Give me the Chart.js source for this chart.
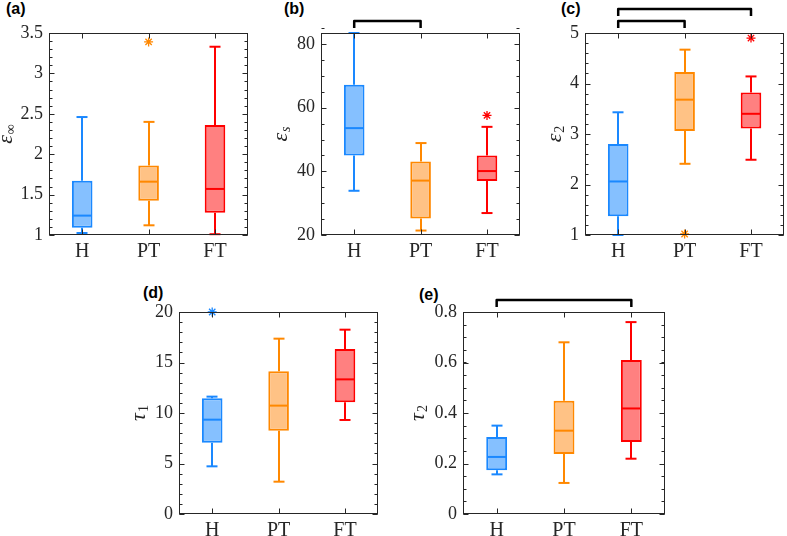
<!DOCTYPE html>
<html><head><meta charset="utf-8">
<script src="https://cdn.jsdelivr.net/npm/chart.js@4/dist/chart.umd.min.js"></script>
<style>
html,body{margin:0;padding:0;background:#fff;width:787px;height:536px;overflow:hidden;position:relative}
canvas{position:absolute}
.lbl{position:absolute;font:bold 16px 'Liberation Sans',Arial,sans-serif;line-height:16px;color:#000;white-space:nowrap}
</style></head><body>
<script>
// ---------------- data ----------------
const categories = ['H', 'PT', 'FT'];

// (a) eps_inf
const aMin = [1.025, 1.12, 1.01];
const aQ1  = [1.09, 1.425, 1.275];
const aMed = [1.24, 1.66, 1.57];
const aQ3  = [1.67, 1.86, 2.36];
const aMax = [2.46, 2.40, 3.33];
const aOutCat = ['PT'];
const aOutVal = [3.39];
const aTicks = [1, 1.5, 2, 2.5, 3, 3.5];

// (b) eps_s
const bMin = [33.9, 21.4, 26.9];
const bQ1  = [45.0, 25.2, 37.0];
const bMed = [53.6, 37.1, 40.1];
const bQ3  = [67.2, 43.1, 45.0];
const bMax = [83.5, 48.9, 54.0];
const bOutCat = ['FT'];
const bOutVal = [57.6];
const bTicks = [20, 40, 60, 80];

// (c) eps_2
const cMin = [1.0, 2.41, 2.49];
const cQ1  = [1.37, 3.06, 3.11];
const cMed = [2.06, 3.68, 3.40];
const cQ3  = [2.80, 4.23, 3.82];
const cMax = [3.43, 4.67, 4.14];
const cOutCat = ['PT', 'FT'];
const cOutVal = [1.02, 4.90];
const cTicks = [1, 2, 3, 4, 5];

// (d) tau_1
const dMin = [4.72, 3.20, 9.31];
const dQ1  = [7.06, 8.25, 11.06];
const dMed = [9.34, 10.73, 13.33];
const dQ3  = [11.45, 14.13, 16.34];
const dMax = [11.62, 17.36, 18.25];
const dOutCat = ['H'];
const dOutVal = [20.0];
const dTicks = [0, 5, 10, 15, 20];

// (e) tau_2
const eMin = [0.157, 0.123, 0.219];
const eQ1  = [0.173, 0.238, 0.285];
const eMed = [0.226, 0.330, 0.418];
const eQ3  = [0.305, 0.449, 0.610];
const eMax = [0.350, 0.680, 0.760];
const eOutCat = [];
const eOutVal = [];
const eTicks = [0, 0.2, 0.4, 0.6, 0.8];

// significance brackets: [fromIndex, toIndex, level]
const bBrackets = [[0, 1, 0]];
const cBrackets = [[0, 1, 0], [0, 2, 1]];
const eBrackets = [[0, 2, 0]];

// ---------------- styles ----------------
const strokes = ['#1A88FF', '#FF8800', '#FF0000'];
const fills   = ['#85C0FF', '#FFC285', '#FF8080'];
const axisColor = '#262626';
const serif = "'Liberation Serif','Times New Roman',serif";

const panels = [
  {tag:'(a)', tagX:6, tagY:1, left:49, top:33, L:49, yMin:1, yMax:3.5, minor:0.1, ticks:aTicks,
   min:aMin,q1:aQ1,med:aMed,q3:aQ3,max:aMax,outCat:aOutCat,outVal:aOutVal, brackets:[],
   title:'ε', sub:'∞', subItalic:false, titleOff:41},
  {tag:'(b)', tagX:284, tagY:1, left:321, top:33, L:50, yMin:20, yMax:83.5, minor:5, ticks:bTicks,
   min:bMin,q1:bQ1,med:bMed,q3:bQ3,max:bMax,outCat:bOutCat,outVal:bOutVal, brackets:bBrackets,
   title:'ε', sub:'s', subItalic:true, titleOff:38},
  {tag:'(c)', tagX:561, tagY:1, left:585, top:33, L:50, yMin:1, yMax:5, minor:0.2, ticks:cTicks,
   min:cMin,q1:cQ1,med:cMed,q3:cQ3,max:cMax,outCat:cOutCat,outVal:cOutVal, brackets:cBrackets,
   title:'ε', sub:'2', subItalic:false, titleOff:28.5},
  {tag:'(d)', tagX:143, tagY:285, left:179, top:312, L:50, yMin:0, yMax:20, minor:1, ticks:dTicks,
   min:dMin,q1:dQ1,med:dMed,q3:dQ3,max:dMax,outCat:dOutCat,outVal:dOutVal, brackets:[],
   title:'τ', sub:'1', subItalic:false, titleOff:38},
  {tag:'(e)', tagX:419, tagY:287, left:463, top:312, L:50, yMin:0, yMax:0.8, minor:0.05, ticks:eTicks,
   min:eMin,q1:eQ1,med:eMed,q3:eQ3,max:eMax,outCat:eOutCat,outVal:eOutVal, brackets:eBrackets,
   title:'τ', sub:'2', subItalic:false, titleOff:43.5}
];

const PLOT = 202, TOP = 30, BOT = 28, RIGHT = 3;

function seg(ctx, x1, y1, x2, y2) {
  ctx.beginPath(); ctx.moveTo(x1, y1); ctx.lineTo(x2, y2); ctx.stroke();
}

const boxExtras = {
  id: 'boxExtras',
  beforeDatasetsDraw(chart, args, opts) {
    const p = opts.panel; const {ctx} = chart; const x = chart.scales.x, y = chart.scales.y;
    ctx.save();
    ctx.lineWidth = 2; ctx.lineCap = 'butt';
    categories.forEach((c, i) => {
      const cx = Math.round(x.getPixelForValue(i));
      ctx.strokeStyle = strokes[i];
      const yMax = y.getPixelForValue(p.max[i]), yQ3 = y.getPixelForValue(p.q3[i]);
      const yMin = y.getPixelForValue(p.min[i]), yQ1 = y.getPixelForValue(p.q1[i]);
      seg(ctx, cx, yQ3, cx, yMax);
      seg(ctx, cx, yQ1, cx, yMin);
      seg(ctx, cx - 5.5, yMax, cx + 5.5, yMax);
      seg(ctx, cx - 5.5, yMin, cx + 5.5, yMin);
    });
    ctx.restore();
  },
  afterDatasetsDraw(chart, args, opts) {
    const p = opts.panel; const {ctx, chartArea: a} = chart; const x = chart.scales.x, y = chart.scales.y;
    ctx.save();
    // medians
    const meta = chart.getDatasetMeta(0);
    ctx.lineWidth = 2;
    categories.forEach((c, i) => {
      const bar = meta.data[i];
      const hw = bar.width / 2;
      const ym = y.getPixelForValue(p.med[i]);
      ctx.strokeStyle = strokes[i];
      seg(ctx, bar.x - hw + 1, ym, bar.x + hw - 1, ym);
    });
    // axes frame
    ctx.strokeStyle = axisColor; ctx.lineWidth = 1;
    const L = Math.round(a.left) + 0.5, R = Math.round(a.right) - 0.5;
    const T = Math.round(a.top) + 0.5, B = Math.round(a.bottom) - 0.5;
    ctx.strokeRect(L, T, R - L, B - T);
    // y ticks (inside, both sides)
    const nMinor = Math.round((p.yMax - p.yMin) / p.minor);
    for (let k = 0; k <= nMinor; k++) {
      const v = p.yMin + k * p.minor;
      const yy = Math.round(y.getPixelForValue(v)) + 0.5;
      seg(ctx, L, yy, L + 3, yy); seg(ctx, R, yy, R - 3, yy);
    }
    p.ticks.forEach(v => {
      const yy = Math.round(y.getPixelForValue(v)) + 0.5;
      seg(ctx, L, yy, L + 5, yy); seg(ctx, R, yy, R - 5, yy);
    });
    // x ticks
    categories.forEach((c, i) => {
      const xx = Math.round(x.getPixelForValue(i)) + 0.5;
      seg(ctx, xx, B, xx, B - 5); seg(ctx, xx, T, xx, T + 5);
    });
    // brackets
    ctx.strokeStyle = '#000'; ctx.lineWidth = 2.5; ctx.lineJoin = 'round';
    p.brackets.forEach(([i, j, lev]) => {
      const x1 = x.getPixelForValue(i), x2 = x.getPixelForValue(j);
      const yb = a.top - 12 - 12 * lev;
      ctx.beginPath();
      ctx.moveTo(x1, yb + 7); ctx.lineTo(x1, yb); ctx.lineTo(x2, yb); ctx.lineTo(x2, yb + 7);
      ctx.stroke();
    });
    // y title (rotated, with subscript)
    ctx.translate(a.left - p.titleOff - 1, (a.top + a.bottom) / 2);
    ctx.rotate(-Math.PI / 2);
    ctx.fillStyle = axisColor;
    ctx.textBaseline = 'alphabetic';
    const mainFont = 'italic 22px ' + serif;
    const subFont = (p.subItalic ? 'italic ' : '') + '14px ' + serif;
    ctx.font = mainFont; const w1 = ctx.measureText(p.title).width;
    ctx.font = subFont; const w2 = ctx.measureText(p.sub).width;
    const x0 = -(w1 + w2 + 1) / 2;
    ctx.font = mainFont; ctx.fillText(p.title, x0, 5);
    ctx.font = subFont; ctx.fillText(p.sub, x0 + w1 + 1, 8);
    ctx.restore();
  }
};

panels.forEach(p => {
  const tag = document.createElement('div');
  tag.className = 'lbl'; tag.textContent = p.tag;
  tag.style.left = p.tagX + 'px'; tag.style.top = p.tagY + 'px';
  document.body.appendChild(tag);

  const W = p.L + PLOT + RIGHT, H = TOP + PLOT + BOT;
  const cv = document.createElement('canvas');
  cv.width = W; cv.height = H;
  cv.style.width = W + 'px'; cv.style.height = H + 'px';
  cv.style.left = (p.left - p.L) + 'px'; cv.style.top = (p.top - TOP) + 'px';
  document.body.appendChild(cv);

  new Chart(cv, {
    type: 'bar',
    data: {
      labels: categories,
      datasets: [
        {
          type: 'bar',
          data: categories.map((c, i) => [p.q1[i], p.q3[i]]),
          backgroundColor: fills, borderColor: strokes, borderWidth: 2,
          borderSkipped: false, barPercentage: 0.31, categoryPercentage: 1, order: 2
        },
        {
          type: 'scatter',
          data: p.outCat.map((c, k) => ({x: c, y: p.outVal[k]})),
          pointStyle: 'star', pointRadius: 4.5, pointBorderWidth: 1.3,
          pointBorderColor: p.outCat.map(c => strokes[categories.indexOf(c)]),
          pointBackgroundColor: 'rgba(0,0,0,0)',
          showLine: false, clip: false, order: 1
        }
      ]
    },
    options: {
      responsive: false, animation: false, devicePixelRatio: 1,
      layout: {padding: {top: TOP, right: RIGHT, left: 0, bottom: 0}},
      plugins: {legend: {display: false}, tooltip: {enabled: false}, boxExtras: {panel: p}},
      scales: {
        x: {
          type: 'category', offset: true,
          grid: {display: false, drawTicks: false}, border: {display: false},
          ticks: {font: {family: serif, size: 20}, color: axisColor, padding: 5, maxRotation: 0},
          afterFit(s) { s.height = BOT; s.paddingLeft = 0; s.paddingRight = 0; }
        },
        y: {
          type: 'linear', min: p.yMin, max: p.yMax,
          grid: {display: false, drawTicks: false}, border: {display: false},
          ticks: {font: {family: serif, size: 18}, color: axisColor, padding: 6, callback: v => String(v)},
          afterBuildTicks(s) { s.ticks = p.ticks.map(v => ({value: v})); },
          afterFit(s) { s.width = p.L; s.paddingTop = 0; s.paddingBottom = 0; }
        }
      }
    },
    plugins: [boxExtras]
  });
});
</script>
</body></html>
